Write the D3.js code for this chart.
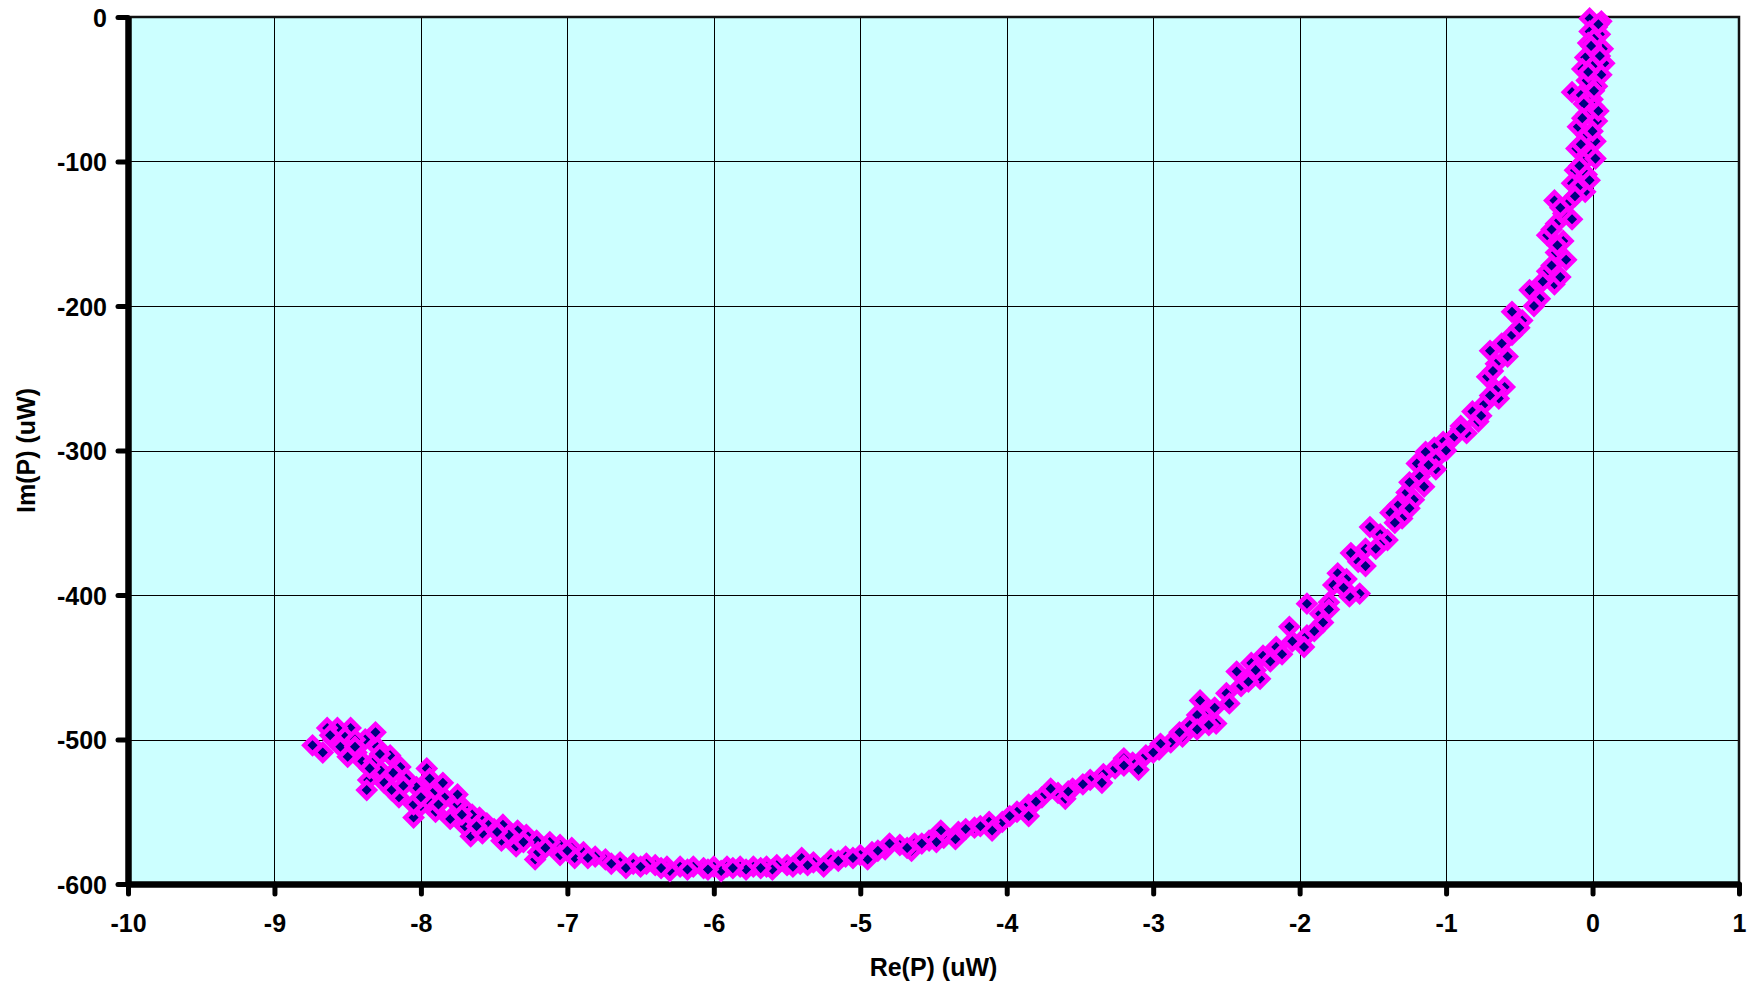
<!DOCTYPE html>
<html>
<head>
<meta charset="utf-8">
<script src="https://cdn.jsdelivr.net/npm/d3@7"></script>
<style>
  body { margin: 0; background: #ffffff; }
  text { font-family: "Liberation Sans", Arial, sans-serif; font-weight: bold; }
</style>
</head>
<body>
<div class="container"></div>
<script>
// Re(P) and Im(P), in uW
var reValues = [
  -0.02, 0.06, 0.03, -0.02, 0.05, 0.01, -0.03, 0.07, 0.02, -0.05,
  0.08, 0.00, -0.07, 0.06, -0.04, 0.03, -0.14, -0.08, 0.00, 0.01,
  -0.04, 0.03, -0.10, -0.04, 0.02, -0.11, -0.01, -0.06, -0.12, -0.04,
  -0.14, -0.05, -0.26, -0.16, -0.20, -0.25, -0.31, -0.20, -0.25, -0.18,
  -0.31, -0.26, -0.43, -0.36, -0.55, -0.48, -0.55, -0.62, -0.70, -0.66,
  -0.72, -0.60, -0.64, -0.74, -0.82, -0.78, -0.86, -0.95, -1.02, -1.08,
  -1.14, -1.07, -1.20, -1.07, -1.18, -1.27, -1.22, -1.33, -1.38, -1.30,
  -1.52, -1.45, -1.40, -1.45, -1.65, -1.60, -1.74, -1.68, -1.77, -1.59,
  -1.66, -1.95, -1.86, -1.84, -2.07, -1.95, -1.97, -2.16, -2.25, -2.33,
  -2.43, -2.27, -2.40, -2.50, -2.68, -2.58, -2.64, -2.57, -2.75, -2.80,
  -2.88, -2.96, -3.05, -3.14, -3.26, -3.34, -3.43, -3.55, -3.65, -3.76,
  -3.85, -3.93, -4.03, -4.12, -4.22, -4.33, -4.43, -4.53, -4.63, -4.73,
  -4.83, -4.92, -5.00, -5.10, -5.20, -5.32, -5.41, -5.50, -5.57, -5.64,
  -5.73, -5.82, -5.91, -6.00, -6.07, -6.14, -6.23, -6.32, -6.40, -6.46,
  -6.55, -6.64, -6.74, -6.81, -6.89, -6.97, -7.05, -7.12, -7.22, -7.21,
  -7.28, -7.34, -7.44, -7.50, -7.55, -7.60, -7.66, -7.70, -7.75, -7.75,
  -7.84, -7.92, -7.96, -7.94, -8.03, -8.05, -8.00, -8.10, -8.14, -8.19,
  -8.21, -8.28, -8.30, -8.36, -8.37, -8.31, -8.38, -8.44, -8.48, -8.52,
  -8.57, -8.60, -8.64, -8.67, -8.74, -8.40, -8.25, -8.15, -8.05, -7.90,
  -7.80, -7.85, -7.70, -7.58, -7.45, -7.35, -7.20, -7.05, -8.55, -8.45,
  -8.20, -7.95, -7.65, -7.40, -6.95, -6.60, -6.30, -5.95, -5.60, -5.25,
  -4.95, -4.65, -4.35, -4.10, -3.85, -3.60, -3.35, -3.10, -4.45, -4.80,
  -5.40, -3.70, -3.20, -2.95, -2.70, -2.20, -1.80, -1.55, -1.25, -0.90,
  0.04, -0.01, 0.05, -0.03, 0.01, -0.06, 0.04, -0.07, 0.00, -0.08,
  0.02, -0.09, -0.02, -0.10, -0.12, -0.22, -0.14, -0.28, -0.24, -0.28,
  -0.22, -0.34, -0.40, -0.50,
  -0.58, -0.68, -0.66, -0.70, -0.76, -0.90, -1.00, -1.12, -1.15, -1.25,
  -1.35, -1.48, -1.55, -1.70, -1.80, -1.90, -2.05, -2.12, -2.30, -2.35,
  -2.48, -2.62, -2.70, -2.82,
  -3.00, -3.20, -3.48, -3.58, -3.80, -3.98, -4.18, -4.28, -4.48, -4.58,
  -4.68, -4.88, -5.05, -5.15, -5.36, -5.46, -5.68, -5.78, -5.87, -6.04,
  -6.18, -6.36, -6.50, -6.70, -6.86, -7.00, -7.15, -7.30, -7.48, -7.62,
  -7.72, -7.88, -8.00, -8.12, -8.32, -8.45, -8.62, -8.50, -8.35, -8.28
];
var imValues = [
  -1, -3, -7, -10, -12, -15, -18, -22, -25, -28,
  -32, -34, -36, -40, -44, -48, -52, -54, -57, -62,
  -67, -72, -76, -82, -86, -91, -95, -100, -106, -109,
  -115, -121, -127, -128, -136, -143, -151, -155, -163, -168,
  -176, -185, -189, -195, -204, -210, -220, -226, -231, -240,
  -249, -256, -264, -268, -273, -280, -288, -291, -294, -298,
  -301, -306, -309, -313, -318, -329, -334, -338, -343, -347,
  -353, -358, -362, -365, -371, -377, -385, -389, -393, -399,
  -401, -406, -413, -419, -422, -428, -436, -436, -442, -447,
  -453, -458, -463, -468, -473, -478, -484, -489, -490, -498,
  -502, -507, -511, -516, -520, -524, -528, -534, -537, -540,
  -545, -550, -557, -557, -561, -564, -568, -570, -572, -573,
  -576, -578, -580, -581, -583, -585, -586, -587, -587, -588,
  -588, -588, -588, -588, -589, -588, -588, -588, -587, -586,
  -586, -585, -583, -581, -578, -575, -573, -571, -583, -570,
  -566, -563, -559, -562, -558, -554, -567, -548, -545, -538,
  -540, -537, -520, -527, -533, -554, -546, -527, -519, -523,
  -511, -521, -505, -528, -535, -495, -500, -509, -492, -498,
  -492, -500, -492, -509, -504, -515, -530, -540, -545, -550,
  -555, -530, -560, -565, -570, -574, -578, -580, -505, -500,
  -535, -542, -552, -566, -582, -589, -591, -591, -590, -588,
  -583, -577, -569, -563, -553, -541, -530, -521, -563, -572,
  -582, -534, -513, -503, -483, -446, -405, -368, -322, -283,
  -5, -20, -27, -38, -51, -60, -65, -70, -79, -88,
  -98, -103, -113, -118, -124, -132, -140, -147, -158, -172,
  -180, -183, -200, -215,
  -235, -245, -258, -262, -276, -285, -300, -310, -325, -340,
  -350, -368, -380, -395, -410, -425, -432, -441, -452, -460,
  -475, -490, -493, -495,
  -509, -518, -531, -536, -543, -553, -560, -562, -571, -572,
  -575, -577, -582, -584, -587, -588, -589, -590, -589, -590,
  -590, -589, -588, -586, -582, -577, -575, -571, -564, -560,
  -552, -545, -540, -532, -515, -505, -497, -512, -520, -510
];
var xTicks = [-10, -9, -8, -7, -6, -5, -4, -3, -2, -1, 0, 1];
var yTicks = [0, -100, -200, -300, -400, -500, -600];
var xTitle = 'Re(P) (uW)';
var yTitle = 'Im(P) (uW)';

const WIDTH = 1756;
const HEIGHT = 988;
const LEFT = 128;
const RIGHT = 1739;
const TOP = 17;
const BOTTOM = 884;
const FONT = 25;

var svg = d3.select('.container').append('svg')
    .attr('width', WIDTH)
    .attr('height', HEIGHT);

var xScale = d3.scaleLinear()
    .domain([-10, 1])
    .range([LEFT, RIGHT]);

var yScale = d3.scaleLinear()
    .domain([-600, 0])
    .range([BOTTOM, TOP]);

// plot area
svg.append('rect')
    .attr('x', LEFT)
    .attr('y', TOP)
    .attr('width', RIGHT - LEFT)
    .attr('height', BOTTOM - TOP)
    .attr('fill', '#ccffff');

// gridlines
svg.append('g').selectAll('line')
    .data(xTicks.slice(1, -1))
    .enter().append('line')
    .attr('x1', function (d) { return Math.round(xScale(d)) + 0.5; })
    .attr('x2', function (d) { return Math.round(xScale(d)) + 0.5; })
    .attr('y1', TOP)
    .attr('y2', BOTTOM)
    .attr('stroke', '#000')
    .attr('stroke-width', 1);

svg.append('g').selectAll('line')
    .data(yTicks.slice(1, -1))
    .enter().append('line')
    .attr('x1', LEFT)
    .attr('x2', RIGHT)
    .attr('y1', function (d) { return Math.round(yScale(d)) + 0.5; })
    .attr('y2', function (d) { return Math.round(yScale(d)) + 0.5; })
    .attr('stroke', '#000')
    .attr('stroke-width', 1);

// top and right border
svg.append('path')
    .attr('d', 'M' + LEFT + ',' + TOP + 'H' + RIGHT + 'V' + BOTTOM)
    .attr('fill', 'none')
    .attr('stroke', '#111')
    .attr('stroke-width', 2.5);

// axes
var xAxis = d3.axisBottom(xScale)
    .tickValues(xTicks)
    .tickSize(10)
    .tickSizeOuter(0)
    .tickPadding(20)
    .tickFormat(function (d) { return String(d); });

var yAxis = d3.axisLeft(yScale)
    .tickValues(yTicks)
    .tickSize(10)
    .tickSizeOuter(0)
    .tickPadding(11)
    .tickFormat(function (d) { return String(d); });

var gx = svg.append('g')
    .attr('transform', 'translate(0,' + BOTTOM + ')')
    .call(xAxis);

var gy = svg.append('g')
    .attr('transform', 'translate(' + LEFT + ',0)')
    .call(yAxis);

[gx, gy].forEach(function (g) {
    g.select('.domain')
        .attr('stroke', '#000')
        .attr('stroke-width', 6.5);
    g.selectAll('.tick line')
        .attr('stroke', '#000')
        .attr('stroke-width', 5)
        .attr('stroke-linecap', 'round');
    g.selectAll('.tick text')
        .attr('fill', '#000')
        .style('font-size', FONT + 'px')
        .style('font-weight', 'bold')
        .style('font-family', '"Liberation Sans", Arial, sans-serif');
});
gy.selectAll('.tick text').attr('dy', '0.36em');

// axis titles
svg.append('text')
    .attr('x', (LEFT + RIGHT) / 2)
    .attr('y', 976)
    .attr('text-anchor', 'middle')
    .style('font-size', FONT + 'px')
    .text(xTitle);

svg.append('text')
    .attr('transform', 'translate(35,' + (TOP + BOTTOM) / 2 + ') rotate(-90)')
    .attr('text-anchor', 'middle')
    .style('font-size', FONT + 'px')
    .text(yTitle);

// markers
var diamond = d3.symbol().type(d3.symbolSquare).size(135);

svg.append('g').selectAll('path')
    .data(reValues.map(function (re, i) { return [re, imValues[i]]; }))
    .enter().append('path')
    .attr('d', diamond)
    .attr('transform', function (d) {
        return 'translate(' + xScale(d[0]) + ',' + yScale(d[1]) + ') rotate(45)';
    })
    .attr('fill', '#000080')
    .attr('stroke', '#ff00ff')
    .attr('stroke-width', 4.5);
</script>
</body>
</html>
